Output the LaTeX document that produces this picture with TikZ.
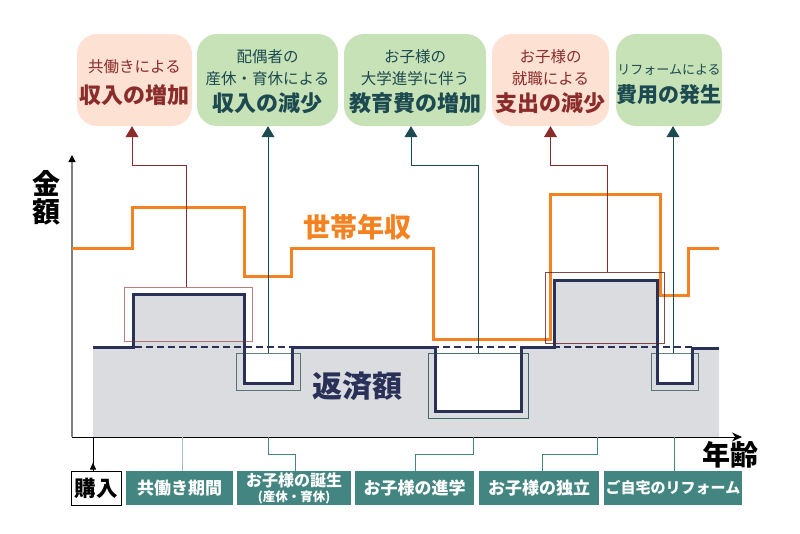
\documentclass[tikz,border=0pt]{standalone}
\usepackage{fontspec}
\setmainfont{Noto Sans CJK JP}
\usetikzlibrary{arrows.meta,positioning,calc}

\definecolor{peach}{HTML}{FDE1D2}
\definecolor{leaf}{HTML}{C6E2B6}
\definecolor{wine}{HTML}{8B2C2C}
\definecolor{pine}{HTML}{1D4A50}
\definecolor{navy}{HTML}{2A3158}
\definecolor{ash}{HTML}{DADCDF}
\definecolor{sea}{HTML}{438581}
\definecolor{income}{HTML}{F58220}

\newcommand{\bigline}[1]{{\fontsize{22}{26}\selectfont\bfseries #1}}
\newcommand{\toprule}[1]{\rule{0pt}{#1}}

\tikzset{
    topbox/.style={rounded corners=20pt, inner sep=0pt, align=center, minimum height=92pt,
        font=\fontsize{15.5}{22}\selectfont},
    redbox/.style={topbox, fill=peach, text=wine},
    greenbox/.style={topbox, fill=leaf, text=pine},
    mark box/.style={draw, inner sep=0pt, line width=0.8pt},
    lifebox/.style={fill=sea, text=white, inner sep=0pt, minimum height=34pt, align=center,
        font=\fontsize{17}{18}\selectfont\bfseries},
    redline/.style={wine, line width=0.8pt},
    greenline/.style={pine, line width=0.8pt},
    uptip/.style={-{Triangle[width=13pt,length=11pt]}},
    teal line/.style={sea, line width=0.9pt},
}

\begin{document}
\begin{tikzpicture}[x=1pt,y=-1pt]
    \useasboundingbox (0,0) rectangle (800,533);

    % repayment area
    \fill[ash] (93,437) -- (93,347) -- (133,347) -- (133,294) -- (244,294) -- (244,383) -- (292,383) -- (292,347)
        -- (435,347) -- (435,411) -- (521,411) -- (521,347) -- (554,347) -- (554,280) -- (657,280) -- (657,383)
        -- (692,383) -- (692,347) -- (719,347) -- (719,437) -- cycle;
    \fill[white] (244,347) rectangle (292,383);
    \fill[white] (435,347) rectangle (521,411);
    \fill[white] (657,347) rectangle (692,383);

    % axes
    \draw[line width=1.4pt, black!50, -{Triangle[width=7pt,length=7pt,black]}] (72,437) -- (72,155);
    \draw[line width=0.9pt, -{Stealth[width=9pt,length=10pt]}] (72,437) -- (742,437);

    % income
    \draw[income, line width=3pt] (72,248) -- (132,248) -- (132,207) -- (244,207) -- (244,276) -- (291,276)
        -- (291,248) -- (433,248) -- (433,339) -- (550,339) -- (550,194) -- (660,194) -- (660,295) -- (688,295)
        -- (688,248) -- (719,248);

    % repayment
    \draw[navy, line width=2pt, dash pattern=on 7pt off 4pt] (135,347) -- (692,347);
    \draw[navy, line width=3pt] (93,347) -- (133,347) -- (133,294) -- (244,294) -- (244,383) -- (292,383) -- (292,347)
        -- (435,347) -- (435,411) -- (521,411) -- (521,347) -- (554,347) -- (554,280) -- (657,280) -- (657,383)
        -- (692,383) -- (692,348) -- (719,348);

    \node[redbox, minimum width=115pt] (top_tomo) at (134.5,80) {\toprule{18pt}共働きによる\\[9pt]\bigline{収入の増加}};
    \node[greenbox, minimum width=141pt] (top_ikukyu) at (267.5,80) {\toprule{16pt}配偶者の\\産休・育休による\\[5pt]\bigline{収入の減少}};
    \node[greenbox, minimum width=142pt] (top_shingaku) at (415,80) {\toprule{16pt}お子様の\\大学進学に伴う\\[5pt]\bigline{教育費の増加}};
    \node[redbox, minimum width=117pt] (top_shushoku) at (550.5,80) {\toprule{16pt}お子様の\\就職による\\[5pt]\bigline{支出の減少}};
    \node[greenbox, minimum width=106pt] (top_reform) at (669,80) {{\fontsize{13}{20}\selectfont\toprule{18.5pt}リフォームによる}\\[6pt]{\fontsize{21}{26}\selectfont\bfseries 費用の発生}};

    \node[mark box, wine, opacity=0.6, minimum width=128pt, minimum height=54pt] (m_tomo) at (188,314) {};
    \node[mark box, pine, opacity=0.7, minimum width=64pt, minimum height=37pt] (m_ikukyu) at (268,371.5) {};
    \node[mark box, pine, opacity=0.8, minimum width=100pt, minimum height=65pt] (m_shingaku) at (478,385.5) {};
    \node[mark box, wine!70!black, opacity=0.8, minimum width=119pt, minimum height=71pt] (m_shushoku) at (604.5,307.5) {};
    \node[mark box, pine, opacity=0.7, minimum width=47pt, minimum height=37pt] (m_reform) at (674.5,371.5) {};

    \draw[redline, uptip] (m_tomo.north -| 186,0) -- (186,165) -| (top_tomo.south -| 132,0);
    \draw[greenline, uptip] (m_ikukyu.north) -- (top_ikukyu.south -| m_ikukyu.north);
    \draw[greenline, uptip] (m_shingaku.north) -- (478,165) -| (top_shingaku.south -| 411,0);
    \draw[redline, uptip] (m_shushoku.north -| 607,0) -- (607,165) -| (top_shushoku.south);
    \draw[greenline, uptip] (m_reform.north -| 673,0) -- (top_reform.south -| 673,0);

    \node[font=\fontsize{27}{30}\selectfont\bfseries, text=income] (lb_income) at (357.5,227) {世帯年収};
    \node[font=\fontsize{30}{32}\selectfont\bfseries, text=navy] (lb_repay) at (357.5,386) {返済額};
    \node[font=\fontsize{28}{28}\selectfont\bfseries, align=center] (lb_money) at (46,198) {金\\額};
    \node[font=\fontsize{28}{30}\selectfont\bfseries] (lb_age) at (730,455) {年齢};

    \node[draw, line width=0.9pt, inner sep=0pt, minimum width=50pt, minimum height=34pt,
        font=\fontsize{21.5}{22}\selectfont\bfseries] (buy) at (96,488) {購入};
    \node[lifebox, minimum width=107pt] (l_tomo) at (179.5,488) {共働き期間};
    \node[lifebox, minimum width=114pt, font=\fontsize{16}{18}\selectfont\bfseries] (l_birth) at (294,488) {お子様の誕生\\[-3pt]{\fontsize{12.5}{12}\selectfont (産休・育休)}};
    \node[lifebox, minimum width=119pt] (l_school) at (414.5,488) {お子様の進学};
    \node[lifebox, minimum width=120pt] (l_indep) at (539,488) {お子様の独立};
    \node[lifebox, minimum width=138pt, font=\fontsize{15}{18}\selectfont\bfseries] (l_reform) at (673,488) {ご自宅のリフォーム};

    \draw[line width=0.8pt, -{Triangle[width=6pt,length=7pt]}] (93,437) -- (buy.north -| 93,0) ++(0,-8);
    \draw[teal line, sea!50] (182,437) -- (l_tomo.north -| 182,0);
    \draw[teal line] (268,437) -- (268,454) -| (l_birth.north -| 295,0);
    \draw[teal line] (473,437) -- (473,454) -| (l_school.north -| 415,0);
    \draw[teal line] (597,437) -- (597,454) -| (l_indep.north -| 542,0);
    \draw[teal line] (674,437) -- (l_reform.north -| 674,0);
\end{tikzpicture}
\end{document}
